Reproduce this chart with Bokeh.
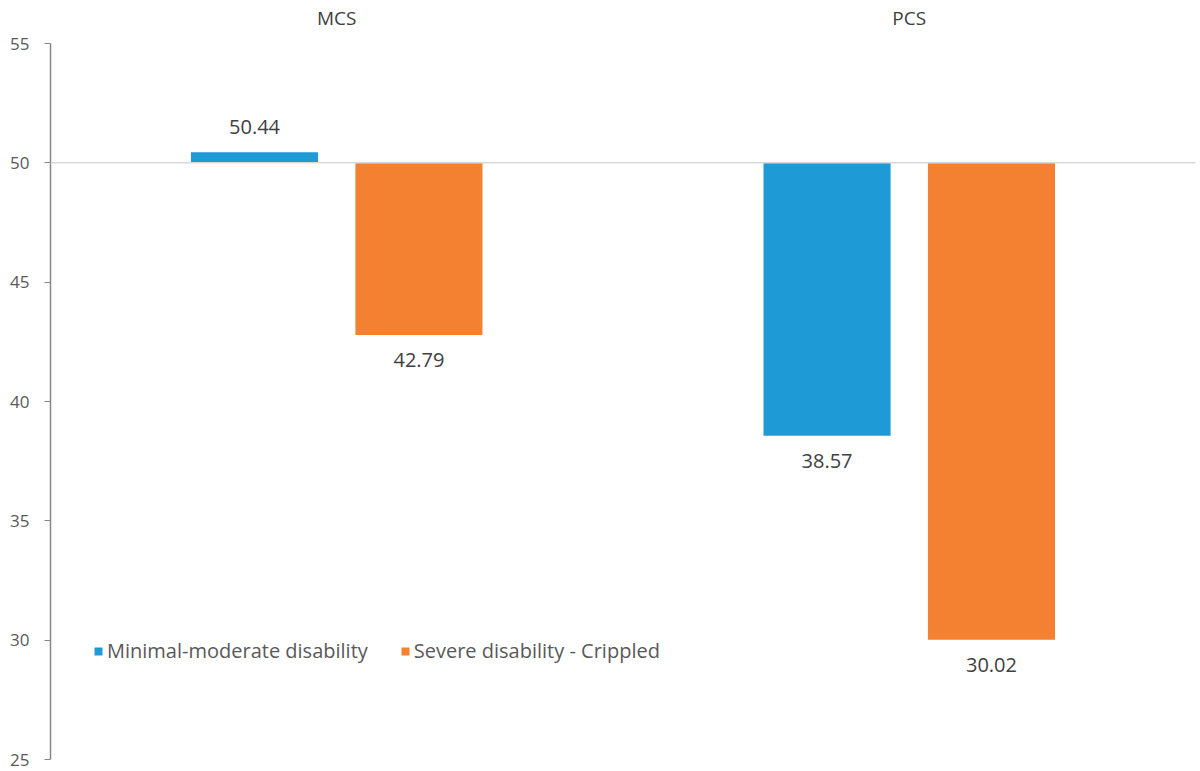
from bokeh.plotting import figure
from bokeh.models import (ColumnDataSource, Range1d, FixedTicker, Span, Legend, LegendItem, LinearAxis)
from bokeh.core.properties import value
from bokeh.embed import file_html
from bokeh.resources import INLINE

categories = ["MCS", "PCS"]
series_names = ["Minimal-moderate disability", "Severe disability - Crippled"]
minimal_moderate = [50.44, 38.57]
severe_crippled = [42.79, 30.02]
baseline = 50
y_ticks = [25, 30, 35, 40, 45, 50, 55]

colors = ["#1E9BD7", "#F48031"]
FONT = "Open Sans"

cat_x = [i + 0.5 for i in range(len(categories))]
offset = 0.1436
bar_w = 0.222

p = figure(width=1197, height=771, output_backend="svg", toolbar_location=None,
           x_range=Range1d(0, len(categories)), y_range=Range1d(25, 55),
           x_axis_location=None, min_border_left=50, min_border_right=2,
           min_border_top=43, min_border_bottom=12)
p.outline_line_color = None
p.grid.visible = False
p.background_fill_color = "white"

# baseline line at 50
p.add_layout(Span(location=baseline, dimension="width", line_color="#D9D9D9", line_width=1.5))

renderers = []
label_text_color = "#404040"
for series, vals, col, sgn in [(series_names[0], minimal_moderate, colors[0], -1),
                                (series_names[1], severe_crippled, colors[1], 1)]:
    xs = [c + sgn * offset for c in cat_x]
    src = ColumnDataSource(dict(x=xs, top=vals, bottom=[baseline] * len(vals),
                                lab=["%.2f" % v for v in vals],
                                yoff=[-25 if v >= baseline else 25 for v in vals]))
    r = p.vbar(x="x", top="top", bottom="bottom", width=bar_w, source=src,
               fill_color=col, line_color=None)
    renderers.append(r)
    p.text(x="x", y="top", text="lab", y_offset="yoff", source=src,
           text_align="center", text_baseline="middle", text_color=label_text_color,
           text_font=value(FONT), text_font_size="20px")

# y axis
ya = p.yaxis[0]
ya.ticker = FixedTicker(ticks=y_ticks)
ya.axis_line_color = "#868686"
ya.axis_line_width = 1.5
ya.major_tick_line_color = "#868686"
ya.major_tick_out = 6
ya.major_tick_in = 0
ya.minor_tick_line_color = None
ya.major_label_text_color = "#595959"
ya.major_label_text_font = FONT
ya.major_label_text_font_size = "17px"
ya.major_label_standoff = 15

# category axis on top
xa = LinearAxis(ticker=FixedTicker(ticks=cat_x),
                major_label_overrides={c: n for c, n in zip(cat_x, categories)})
xa.axis_line_color = None
xa.major_tick_line_color = None
xa.minor_tick_line_color = None
xa.major_label_text_color = "#404040"
xa.major_label_text_font = FONT
xa.major_label_text_font_size = "19px"
xa.major_label_standoff = 7
p.add_layout(xa, "above")

legend = Legend(items=[LegendItem(label=series_names[0], renderers=[renderers[0]]),
                       LegendItem(label=series_names[1], renderers=[renderers[1]])],
                orientation="horizontal", location=(43, 95),
                border_line_color=None, background_fill_alpha=0,
                label_text_font=FONT, label_text_font_size="20px",
                label_text_color="#595959", glyph_width=10, glyph_height=10,
                label_standoff=4, spacing=32, padding=0, margin=0)
p.add_layout(legend, "center")

open("out.html", "w").write(file_html(p, INLINE))
